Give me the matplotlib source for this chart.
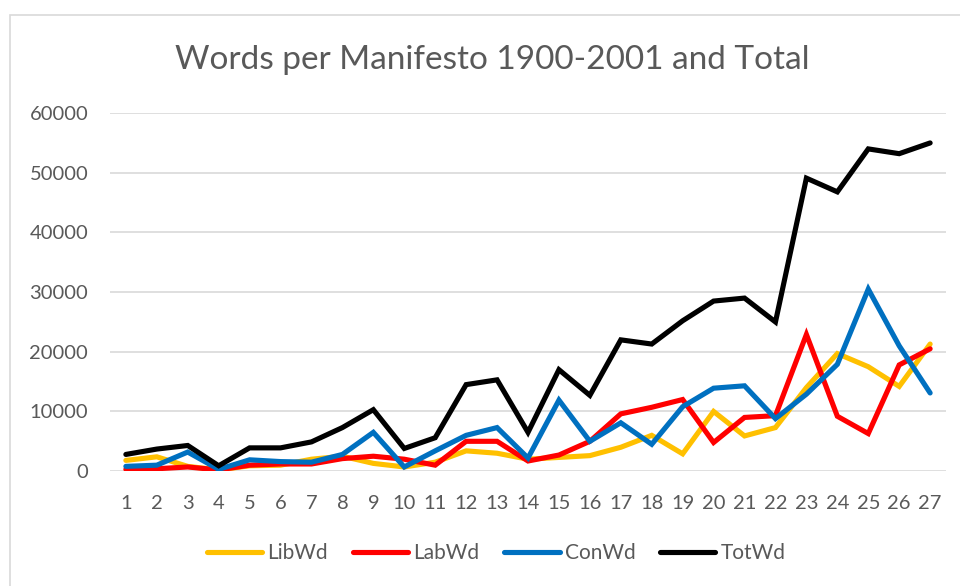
import matplotlib.pyplot as plt
from matplotlib.patches import Rectangle

plt.rcParams['font.family'] = ['Lato', 'DejaVu Sans']

# manifesto number 1..27
manifesto = list(range(1, 28))
lib_wd = [1800, 2400, 800, 200, 900, 1000, 2000, 2500, 1300, 700, 1500, 3400, 3000, 2000,
          2300, 2600, 4000, 6000, 2900, 10000, 5900, 7300, 14000, 19700, 17500, 14200, 21300]
lab_wd = [300, 400, 700, 200, 1000, 1200, 1200, 2100, 2500, 2000, 1000, 5000, 5000, 1700,
          2700, 5000, 9600, 10700, 12000, 4800, 9000, 9300, 22900, 9200, 6300, 17800, 20500]
con_wd = [800, 1000, 3200, 300, 1900, 1600, 1500, 2800, 6500, 700, 3400, 6000, 7300, 2200,
          11900, 5000, 8100, 4500, 10800, 13900, 14300, 8800, 12900, 17900, 30500, 21000, 13100]
tot_wd = [2800, 3700, 4300, 900, 3900, 3900, 4900, 7300, 10300, 3800, 5600, 14500, 15300, 6500,
          17000, 12700, 22000, 21300, 25200, 28500, 29000, 25000, 49100, 46800, 54000, 53200, 55000]

series = [("LibWd", lib_wd, "#FFC000"),
          ("LabWd", lab_wd, "#FF0000"),
          ("ConWd", con_wd, "#0070C0"),
          ("TotWd", tot_wd, "#000000")]

fig = plt.figure(figsize=(9.6, 5.86), dpi=100)
ax = fig.add_axes([0.115, 0.196, 0.870, 0.611])

for name, vals, col in series:
    ax.plot(manifesto, vals, color=col, linewidth=3.7, label=name,
            solid_capstyle='round', solid_joinstyle='miter')

ax.set_xlim(0.5, 27.5)
ax.set_ylim(0, 60000)
ax.set_yticks(range(0, 60001, 10000))
ax.set_xticks(manifesto)
ax.grid(axis='y', color='#D9D9D9', linewidth=1.2)
ax.set_axisbelow(True)
for s in ['top', 'right', 'left', 'bottom']:
    ax.spines[s].set_visible(False)
ax.tick_params(axis='both', length=0, labelsize=14.5, labelcolor='#595959')
ax.tick_params(axis='y', pad=16)
ax.tick_params(axis='x', pad=17)

fig.text(0.513, 0.897, "Words per Manifesto 1900-2001 and Total", ha='center', va='center',
         fontsize=24, color='#595959')

leg = fig.legend(loc='center', bbox_to_anchor=(0.517, 0.056), ncol=4, frameon=False,
                 fontsize=15, handlelength=2.65, handletextpad=0.24, columnspacing=1.2)
for t in leg.get_texts():
    t.set_color('#595959')

# chart border
fig.patches.append(Rectangle((10 / 960, -0.01), 1.0, 1 - 15 / 586 + 0.01, transform=fig.transFigure,
                             fill=False, edgecolor='#D9D9D9', linewidth=1.2))

fig.savefig("out.png", dpi=100)
